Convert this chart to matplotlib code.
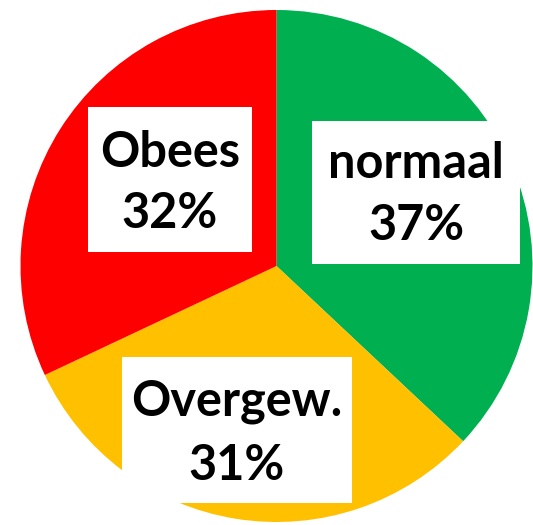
import matplotlib
matplotlib.use("Agg")
import matplotlib.pyplot as plt
from matplotlib.patches import Rectangle

categories = ["normaal", "Overgew.", "Obees"]
values = [37, 31, 32]
colors = ["#00B050", "#FFC000", "#FF0000"]

W, H = 533, 525
fig = plt.figure(figsize=(W / 100, H / 100), dpi=100)
ax = fig.add_axes([0, 0, 1, 1])
# y axis is inverted (pixel coordinates), so start at 270 and run counterclockwise in data
ax.pie(values, colors=colors, startangle=270, counterclock=True,
       center=(276.5, 266), radius=256, frame=True,
       wedgeprops=dict(linewidth=0))
ax.set_xlim(0, W)
ax.set_ylim(H, 0)
ax.set_aspect("auto")
ax.axis("off")

# label boxes: (x0, y0, x1, y1) in pixels, baselines of the two lines
boxes = {
    "normaal": ((312, 121, 520, 264), (178, 240)),
    "Overgew.": ((122, 357, 352, 503), (416, 480)),
    "Obees": ((88, 107, 252, 252), (167, 228)),
}
font = dict(family=["Lato", "DejaVu Sans"], fontweight="bold", fontsize=35, color="black")
for cat, val in zip(categories, values):
    (x0, y0, x1, y1), (b1, b2) = boxes[cat]
    ax.add_patch(Rectangle((x0, y0), x1 - x0, y1 - y0, facecolor="white", edgecolor="none", zorder=3))
    cx = (x0 + x1) / 2
    ax.text(cx, b1, cat, ha="center", va="baseline", zorder=4, **font)
    ax.text(cx, b2, f"{val}%", ha="center", va="baseline", zorder=4, **font)

fig.savefig("out.png", dpi=100)
